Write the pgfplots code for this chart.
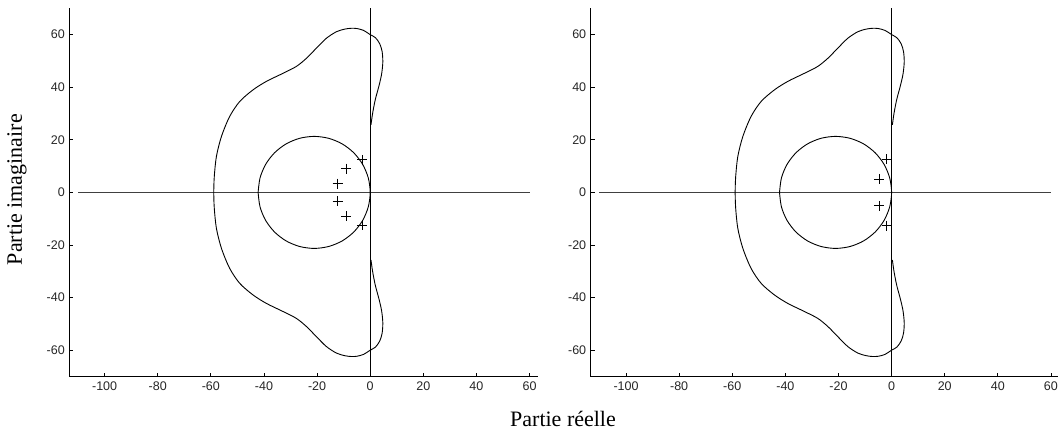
\documentclass[border=0pt]{standalone}
\usepackage{fontspec}
\usepackage{pgfplots}
\pgfplotsset{compat=1.18}
\setmainfont{Liberation Serif}
\newfontfamily\tickfont{Liberation Sans}
\pgfplotstableread{
x y
0.3 25.7
0.9 30
1.9 35.2
3.3 40.5
4.3 45
4.75 49.5
4.5 53.5
3.6 56.5
2.0 58.8
0 60.0
-2.5 61.6
-5 62.3
-7.1 62.4
-9.5 62.1
-12.7 61.1
-16.5 58.6
-20.3 54.8
-24.0 51.0
-27.8 47.9
-32.8 45.3
-39.1 42.2
-44.1 39.0
-49.1 34.6
-52.9 28.9
-56.0 21.3
-57.9 13.7
-58.7 6.1
-58.9 0
-58.7 -6.1
-57.9 -13.7
-56.0 -21.3
-52.9 -28.9
-49.1 -34.6
-44.1 -39.0
-39.1 -42.2
-32.8 -45.3
-27.8 -47.9
-24.0 -51.0
-20.3 -54.8
-16.5 -58.6
-12.7 -61.1
-9.5 -62.1
-7.1 -62.4
-5 -62.3
-2.5 -61.6
0 -60.0
2.0 -58.8
3.6 -56.5
4.5 -53.5
4.75 -49.5
4.3 -45
3.3 -40.5
1.9 -35.2
0.9 -30
0.3 -25.7
}\outer
\pgfplotstableread{
x y
-42.2 0
-41.48 5.51
-39.37 10.65
-36.02 15.06
-31.65 18.45
-26.56 20.57
-21.1 21.3
-15.64 20.57
-10.55 18.45
-6.18 15.06
-2.83 10.65
-0.72 5.51
0 0
-0.72 -5.51
-2.83 -10.65
-6.18 -15.06
-10.55 -18.45
-15.64 -20.57
-21.1 -21.3
-26.56 -20.57
-31.65 -18.45
-36.02 -15.06
-39.37 -10.65
-41.48 -5.51
-42.2 0
}\inner
\pgfplotstableread{
x y
-3.1 12.4
-9.0 9.0
-12.3 3.3
-12.3 -3.3
-9.0 -9.0
-3.1 -12.4
}\polesA
\pgfplotstableread{
x y
-1.9 12.6
-4.7 5.1
-4.7 -5.1
-1.9 -12.6
}\polesB
\pgfplotsset{
  rl/.style={
    anchor=south west, scale only axis,
    width=469pt, height=368.2pt,
    xmin=-113.3, xmax=63.3, ymin=-70, ymax=70,
    axis x line=bottom, axis y line=left,
    axis line style={-, line width=0.8pt, black},
    tick align=inside, major tick length=4pt,
    tick style={black, line width=0.8pt},
    xtick={-100,-80,...,60}, ytick={-60,-40,...,60},
    ticklabel style={font=\tickfont\fontsize{12.5}{14}\selectfont, text=black!85},
    /pgf/number format/assume math mode=true,
    xticklabel style={yshift=-2pt},
    yticklabel style={xshift=-1pt},
    clip=false,
  }
}
\begin{document}
\begin{tikzpicture}[x=1pt,y=1pt]
\useasboundingbox (0,0) rectangle (1058,432);
\begin{axis}[rl, at={(69.3pt,55.5pt)}]
\addplot[black!75, line width=0.8pt] coordinates {(-110,0) (60,0)};
\addplot[black, line width=0.8pt] coordinates {(0,-70) (0,70)};
\addplot[black, line width=0.9pt, smooth] table {\outer};
\addplot[black, line width=0.9pt, smooth] table {\inner};
\addplot[black, only marks, mark=+, mark size=5pt, mark options={line width=0.8pt}] table {\polesA};
\end{axis}
\begin{axis}[rl, at={(590.7pt,55.5pt)}]
\addplot[black!75, line width=0.8pt] coordinates {(-110,0) (60,0)};
\addplot[black, line width=0.8pt] coordinates {(0,-70) (0,70)};
\addplot[black, line width=0.9pt, smooth] table {\outer};
\addplot[black, line width=0.9pt, smooth] table {\inner};
\addplot[black, only marks, mark=+, mark size=5pt, mark options={line width=0.8pt}] table {\polesB};
\end{axis}
\node[rotate=90, font=\fontsize{22}{24}\selectfont] at (17,242.3) {Partie imaginaire};
\node[anchor=base, font=\fontsize{22}{24}\selectfont, inner sep=0pt] at (563,5.3) {Partie réelle};
\end{tikzpicture}
\end{document}
